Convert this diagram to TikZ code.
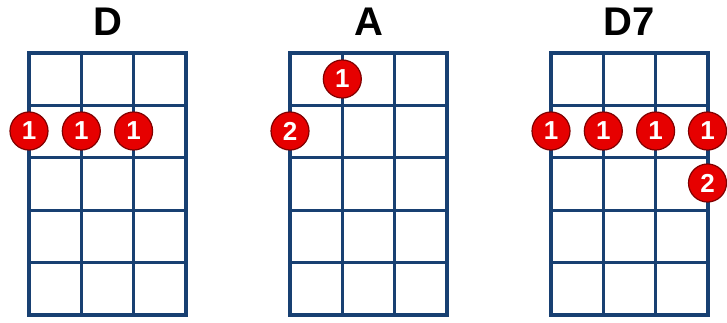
\documentclass[tikz,border=0pt]{standalone}
\usepackage{fontspec}
\setmainfont{Liberation Sans}
\usetikzlibrary{positioning}
\definecolor{fretblue}{RGB}{24,64,114}
\definecolor{dotred}{RGB}{230,0,0}

\begin{document}
\begin{tikzpicture}[
    x=1pt, y=-1pt,
    fretline/.style={line width=3.3pt, color=fretblue, line cap=rect},
    finger/.style={
        circle, fill=dotred, draw=red!50!black, line width=1.2pt,
        minimum size=38pt, inner sep=0pt,
        text=white, font=\fontsize{26}{26}\selectfont\bfseries
    },
    chordname/.style={font=\fontsize{40}{40}\selectfont\bfseries}
]
    \useasboundingbox (0,0) rectangle (727,322);

    % Grids
    \foreach \gx/\lbl/\nm in {29/D/d, 290/A/a, 551/D7/dd} {
        \foreach \i in {0,...,3}
            \draw[fretline] ({\gx+\i*52.3},53) -- ({\gx+\i*52.3},315);
        \foreach \j in {0,...,5}
            \draw[fretline] (\gx,{53+\j*52.4}) -- ({\gx+157},{53+\j*52.4});
        \node[chordname] (\nm name) at ({\gx+78.5},22) {\lbl};
    }

    % Fingers
    \node[finger] (d1) at (29,131) {1};
    \node[finger] (d2) at (81.3,131) {1};
    \node[finger] (d3) at (133.6,131) {1};

    \node[finger] (a1) at (342.3,79) {1};
    \node[finger] (a2) at (290,131) {2};

    \node[finger] (dd1) at (551,131) {1};
    \node[finger] (dd2) at (603.3,131) {1};
    \node[finger] (dd3) at (655.6,131) {1};
    \node[finger] (dd4) at (707.5,131) {1};
    \node[finger] (dd5) at (707.5,183) {2};

\end{tikzpicture}
\end{document}
